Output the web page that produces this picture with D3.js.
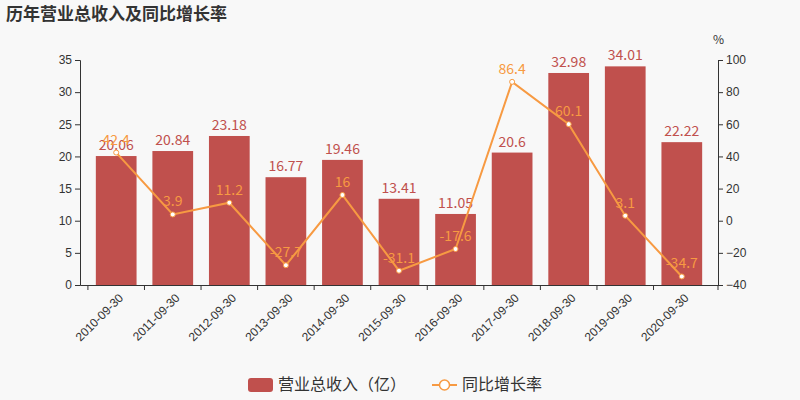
<!DOCTYPE html>
<html><head><meta charset="utf-8">
<script src="https://cdn.jsdelivr.net/npm/d3@7"></script>
<style>body{margin:0;background:#f8f8f8;font-family:"Noto Sans CJK SC","Noto Sans",sans-serif}</style>
</head><body><svg id="chart" width="800" height="400"></svg>
<script>
const categories = ["2010-09-30","2011-09-30","2012-09-30","2013-09-30","2014-09-30","2015-09-30","2016-09-30","2017-09-30","2018-09-30","2019-09-30","2020-09-30"];
const revenue = [20.06,20.84,23.18,16.77,19.46,13.41,11.05,20.6,32.98,34.01,22.22];
const growth = [42.4,3.9,11.2,-27.7,16,-31.1,-17.6,86.4,60.1,3.1,-34.7];
const leftTicks = [0,5,10,15,20,25,30,35];
const rightTicks = [-40,-20,0,20,40,60,80,100];

const svg = d3.select("#chart");
const plotLeft = 80, plotRight = 718, plotTop = 60, plotBottom = 285;
const barColor = "#c0504d", lineColor = "#f79a42", axisColor = "#333";

svg.append("text").attr("x", 6).attr("y", 20).attr("font-size", 17).attr("font-weight", "bold")
  .attr("fill", "#333").text("历年营业总收入及同比增长率");

const x = d3.scaleBand().domain(categories).range([plotLeft, plotRight]).padding(0.28);
const y = d3.scaleLinear().domain([0, 35]).range([plotBottom, plotTop]);
const y2 = d3.scaleLinear().domain([-40, 100]).range([plotBottom, plotTop]);

const gl = svg.append("g").attr("transform", `translate(${plotLeft},0)`)
  .call(d3.axisLeft(y).tickValues(leftTicks).tickSize(5));
const gr = svg.append("g").attr("transform", `translate(${plotRight},0)`)
  .call(d3.axisRight(y2).tickValues(rightTicks).tickSize(5));
const gx = svg.append("g").attr("transform", `translate(0,${plotBottom})`)
  .call(d3.axisBottom(x).tickSize(5).tickSizeOuter(0));
gx.selectAll(".tick line").attr("transform", `translate(${-x.step()/2},0)`);
gx.append("line").attr("x1", plotRight).attr("x2", plotRight).attr("y1", 0).attr("y2", 5).attr("stroke", axisColor);
gx.selectAll("text").attr("transform", "translate(-4,2)rotate(-45)").style("text-anchor", "end");
[gl, gr, gx].forEach(g => {
  g.selectAll("text").attr("font-size", 12).attr("fill", axisColor);
  g.selectAll("path,line").attr("stroke", axisColor);
});
svg.append("text").attr("x", 713).attr("y", 44).attr("font-size", 12).attr("fill", axisColor).text("%");

svg.selectAll("rect.bar").data(revenue).join("rect").attr("class", "bar")
  .attr("x", (d, i) => x(categories[i])).attr("width", x.bandwidth())
  .attr("y", d => y(d)).attr("height", d => plotBottom - y(d)).attr("fill", barColor);
svg.selectAll("text.bl").data(revenue).join("text").attr("class", "bl")
  .attr("x", (d, i) => x(categories[i]) + x.bandwidth()/2).attr("y", d => y(d) - 6)
  .attr("text-anchor", "middle").attr("font-size", 14).attr("fill", barColor).text(d => d);

const cx = (d, i) => x(categories[i]) + x.bandwidth()/2;
svg.append("path").datum(growth)
  .attr("d", d3.line().x(cx).y(d => y2(d)))
  .attr("fill", "none").attr("stroke", lineColor).attr("stroke-width", 2);
svg.selectAll("circle.pt").data(growth).join("circle").attr("class", "pt")
  .attr("cx", cx).attr("cy", d => y2(d)).attr("r", 2.5)
  .attr("fill", "#fff").attr("stroke", lineColor);
svg.selectAll("text.gl").data(growth).join("text").attr("class", "gl")
  .attr("x", cx).attr("y", d => y2(d) - 8)
  .attr("text-anchor", "middle").attr("font-size", 14).attr("fill", lineColor).text(d => d);

const lg = svg.append("g");
lg.append("rect").attr("x", 248).attr("y", 378).attr("width", 25).attr("height", 14).attr("rx", 3).attr("fill", barColor);
lg.append("text").attr("x", 278).attr("y", 390).attr("font-size", 16).attr("fill", axisColor).text("营业总收入（亿）");
lg.append("line").attr("x1", 432).attr("x2", 457).attr("y1", 385).attr("y2", 385).attr("stroke", lineColor).attr("stroke-width", 2);
lg.append("circle").attr("cx", 444.5).attr("cy", 385).attr("r", 5).attr("fill", "#fff").attr("stroke", lineColor).attr("stroke-width", 1.5);
lg.append("text").attr("x", 462).attr("y", 390).attr("font-size", 16).attr("fill", axisColor).text("同比增长率");
</script></body></html>
